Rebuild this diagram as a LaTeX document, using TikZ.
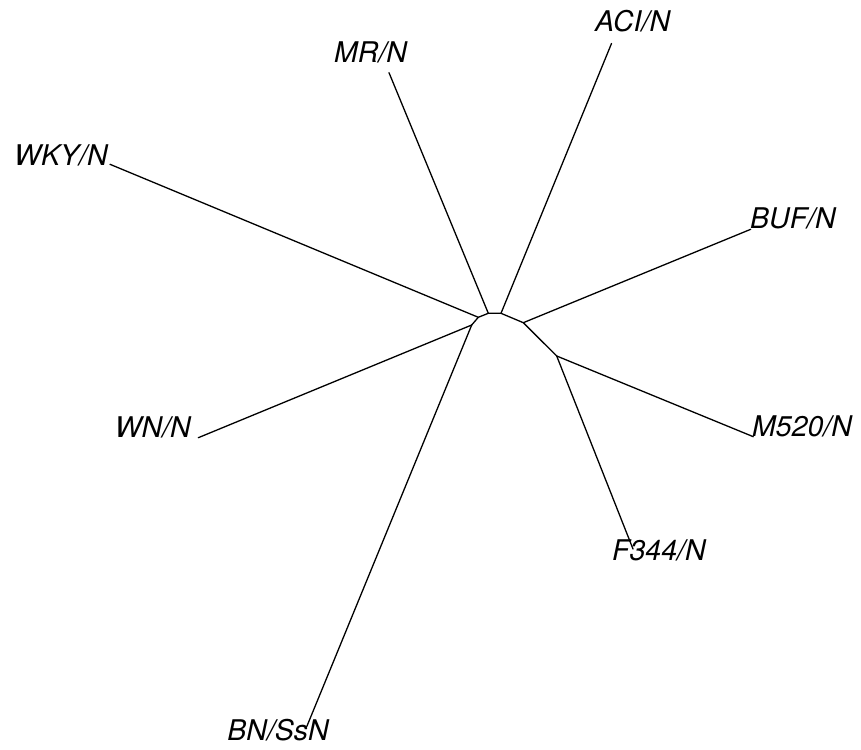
\documentclass[tikz,border=0pt]{standalone}
\usepackage{fontspec}
\setmainfont{TeX Gyre Heros}
\begin{document}
\begin{tikzpicture}[x=1pt,y=-1pt,
  edge/.style={line width=1.3pt,line join=round,line cap=round},
  lab/.style={inner sep=0pt,font=\fontsize{28.5}{31}\selectfont\itshape}]
\useasboundingbox (0,0) rectangle (861,749);
% internal nodes
\coordinate (F) at (471.7,325);
\coordinate (A) at (478.3,317.3);
\coordinate (B) at (488.3,313.3);
\coordinate (C) at (501,313.3);
\coordinate (D) at (523.3,322.7);
\coordinate (E) at (556.7,356);
% leaf ends
\coordinate (aci) at (611.5,43.5);
\coordinate (mr) at (389,72.7);
\coordinate (wky) at (110,164.3);
\coordinate (buf) at (750.7,229.3);
\coordinate (wn) at (198.3,437.7);
\coordinate (m520) at (753.3,436.7);
\coordinate (f344) at (633,549);
\coordinate (bn) at (306.7,726.7);
% labels
\node[lab,anchor=base west] (tACI) at (595,31.7) {ACI/N};
\node[lab,anchor=base west] (tMR) at (334,62.3) {MR/N};
\node[lab,anchor=base west] (tWKY) at (14,165.7) {WKY/N};
\node[lab,anchor=base west] (tBUF) at (750,228.3) {BUF/N};
\node[lab,anchor=base east] (tWN) at (191,437.3) {WN/N};
\node[lab,anchor=base west] (tM520) at (752,436) {M520/N};
\node[lab,anchor=base west] (tF344) at (612,560.7) {F344/N};
\node[lab,anchor=base east] (tBN) at (329,740.7) {BN/SsN};
% edges
\draw[edge] (F) -- (A) -- (B) -- (C) -- (D) -- (E);
\draw[edge] (F) -- (wn);
\draw[edge] (F) -- (bn);
\draw[edge] (A) -- (wky);
\draw[edge] (B) -- (mr);
\draw[edge] (C) -- (aci);
\draw[edge] (D) -- (buf);
\draw[edge] (E) -- (m520);
\draw[edge] (E) -- (f344);
\end{tikzpicture}
\end{document}
